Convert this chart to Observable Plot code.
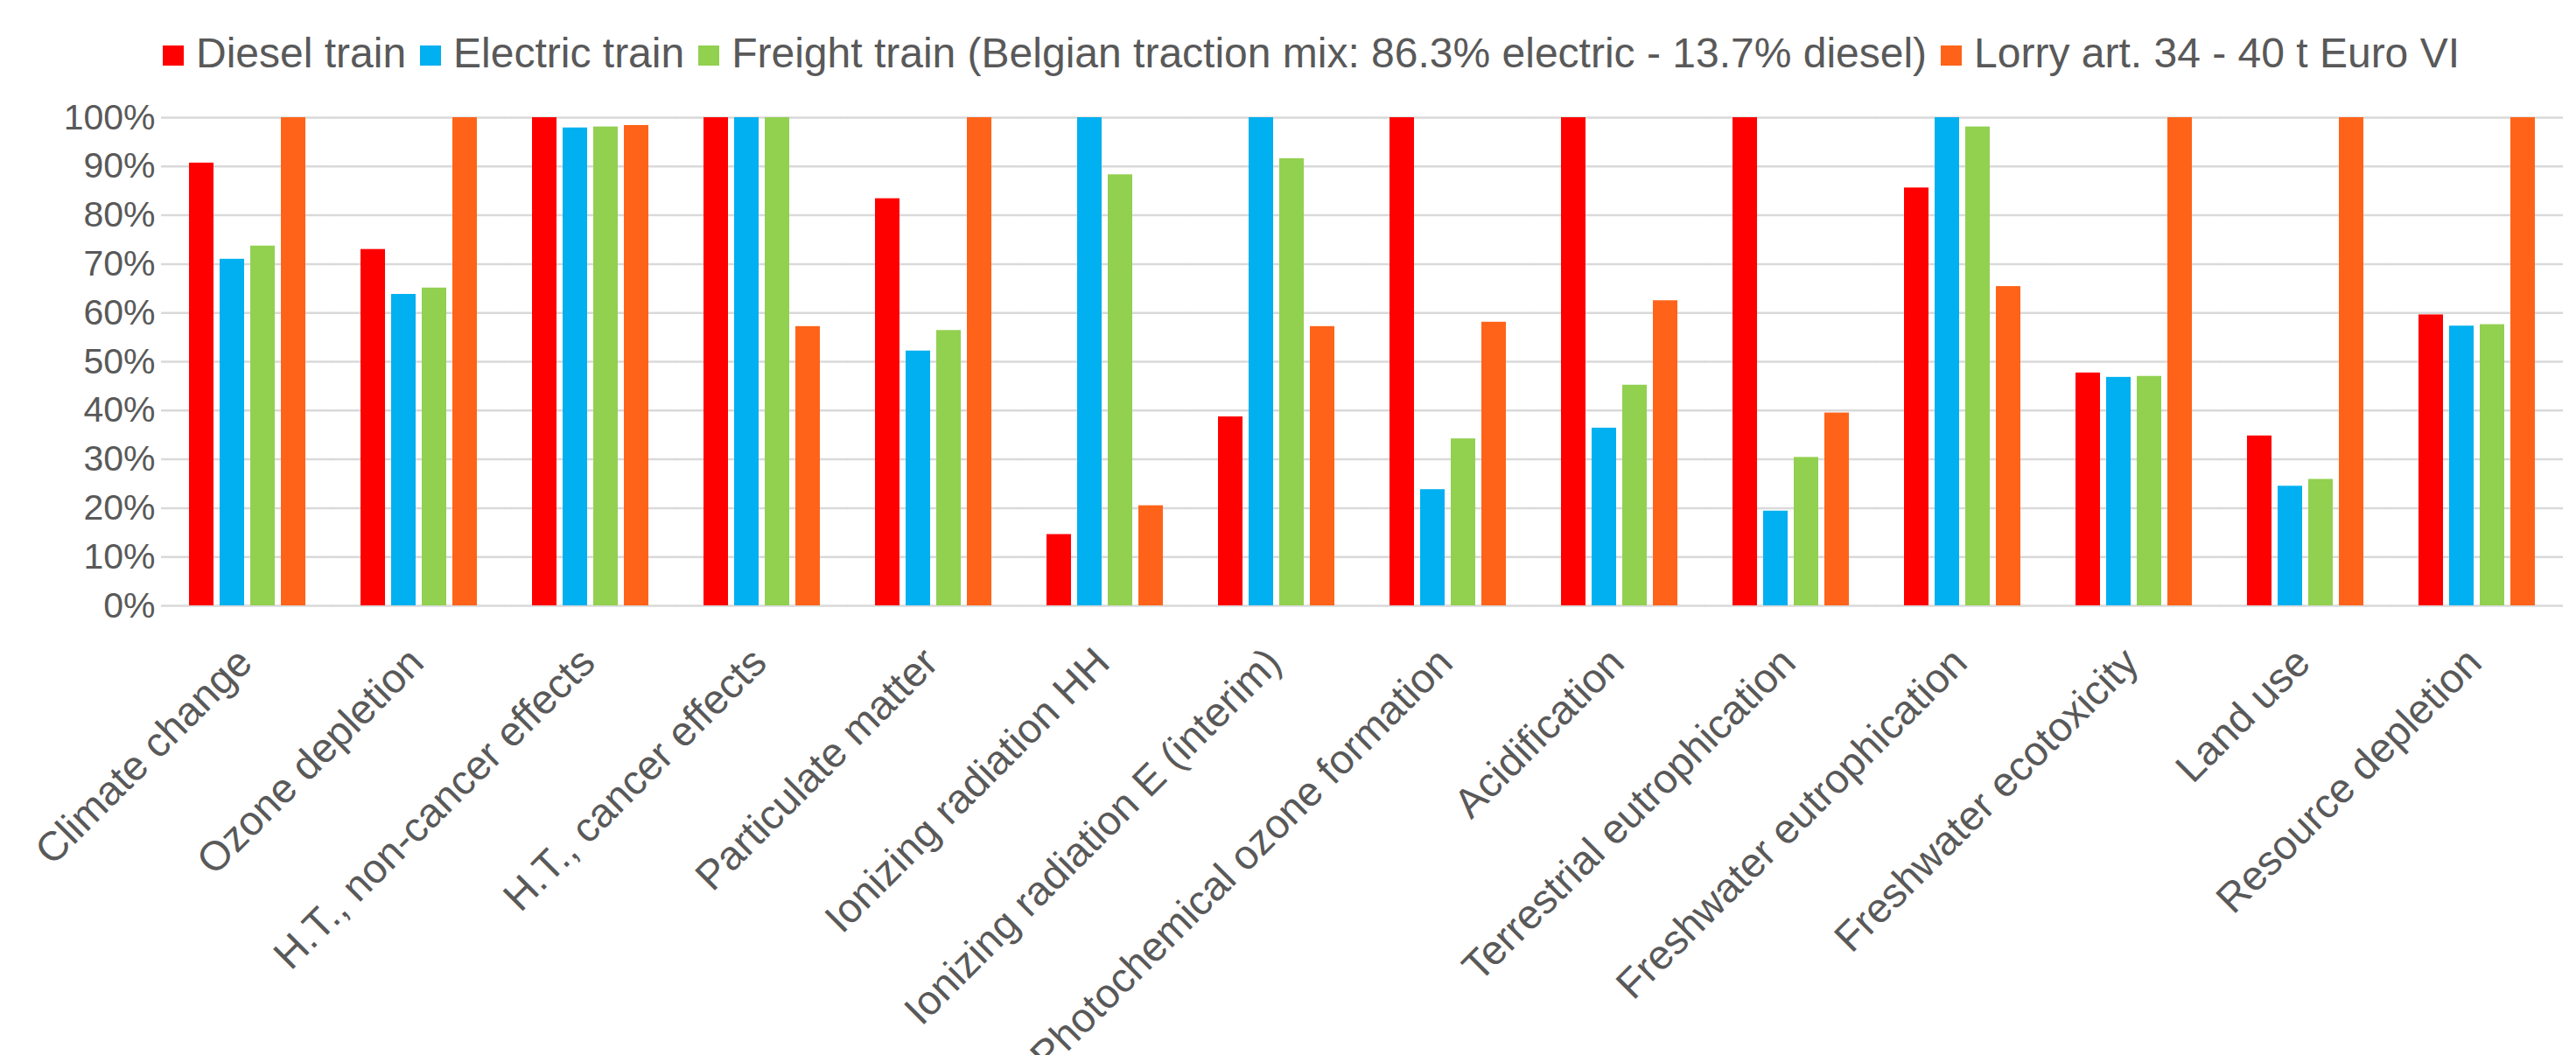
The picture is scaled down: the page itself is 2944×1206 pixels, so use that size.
<!DOCTYPE html>
<html><head><meta charset="utf-8">
<script src="https://cdn.jsdelivr.net/npm/d3@7"></script>
<script src="https://cdn.jsdelivr.net/npm/@observablehq/plot@0.6"></script>
<style>
html,body{margin:0;padding:0;background:#fff;}
body{width:2944px;height:1206px;position:relative;overflow:hidden;font-family:"Liberation Sans",Arial,sans-serif;}
#legend{position:absolute;left:186px;top:37px;height:48px;display:flex;align-items:center;white-space:nowrap;font-size:48px;line-height:48px;color:#595959;}
.item{display:flex;align-items:center;margin-right:16px;}
.sw{width:24px;height:23px;margin-right:14px;position:relative;top:2px;flex:none;}
#chart{position:absolute;left:0;top:100px;}
</style></head><body>
<div id="legend"></div><div id="chart"></div>
<script>
const categories = ["Climate change","Ozone depletion","H.T., non-cancer effects","H.T., cancer effects","Particulate matter","Ionizing radiation HH","Ionizing radiation E (interim)","Photochemical ozone formation","Acidification","Terrestrial eutrophication","Freshwater eutrophication","Freshwater ecotoxicity","Land use","Resource depletion"];
const series = ["Diesel train","Electric train","Freight train (Belgian traction mix: 86.3% electric - 13.7% diesel)","Lorry art. 34 - 40 t Euro VI"];
const dieselTrain   = [90.7, 73.0, 100, 100, 83.4, 14.6, 38.7, 100, 100, 100, 85.6, 47.7, 34.8, 59.6];
const electricTrain = [71.0, 63.8, 97.9, 100, 52.2, 100, 100, 23.8, 36.4, 19.4, 100, 46.8, 24.5, 57.3];
const freightTrain  = [73.7, 65.1, 98.1, 100, 56.4, 88.3, 91.6, 34.2, 45.2, 30.4, 98.1, 47.0, 25.9, 57.6];
const lorry         = [100, 100, 98.4, 57.2, 100, 20.5, 57.2, 58.1, 62.5, 39.5, 65.4, 100, 100, 100];
const yTicks = [0,10,20,30,40,50,60,70,80,90,100];
const colors = ["#FF0000","#00B0F0","#92D050","#FF6319"];

const seriesValues = [dieselTrain, electricTrain, freightTrain, lorry];
const data = categories.flatMap((c,i)=>series.map((s,j)=>({category:c, series:s, value:seriesValues[j][i]})));

// legend
const legend = document.getElementById("legend");
series.forEach((s,j)=>{
  const it = document.createElement("div"); it.className="item";
  const sw = document.createElement("span"); sw.className="sw"; sw.style.background=colors[j];
  const tx = document.createElement("span"); tx.textContent = s;
  it.appendChild(sw); it.appendChild(tx); legend.appendChild(it);
});

const chart = Plot.plot({
  width: 2944, height: 1106,
  marginLeft: 182, marginRight: 12, marginTop: 34, marginBottom: 514,
  style: {fontFamily: "'Liberation Sans', Arial, sans-serif", background: "#fff"},
  fx: {domain: categories, paddingInner: 0.31, paddingOuter: 0.155, label: null},
  x: {domain: series, paddingInner: 0.2, paddingOuter: 0, axis: null},
  y: {domain: [0,100], label: null},
  color: {domain: series, range: colors},
  marks: [
    Plot.ruleY(yTicks, {stroke: "#D9D9D9", strokeWidth: 2.5, insetLeft: -31, insetRight: -31}),
    Plot.barY(data, {fx: "category", x: "series", y: "value", fill: "series"}),
    Plot.axisY({ticks: yTicks, tickSize: 0, tickPadding: 38, tickFormat: d => d + "%", fontSize: 41, color: "#595959", label: null}),
    Plot.axisFx({anchor: "bottom", tickSize: 0, tickPadding: 57, tickRotate: -45, textAnchor: "end", lineAnchor: "middle", dx: -3, fontSize: 47, color: "#595959", label: null})
  ]
});
document.getElementById("chart").appendChild(chart);
</script></body></html>
